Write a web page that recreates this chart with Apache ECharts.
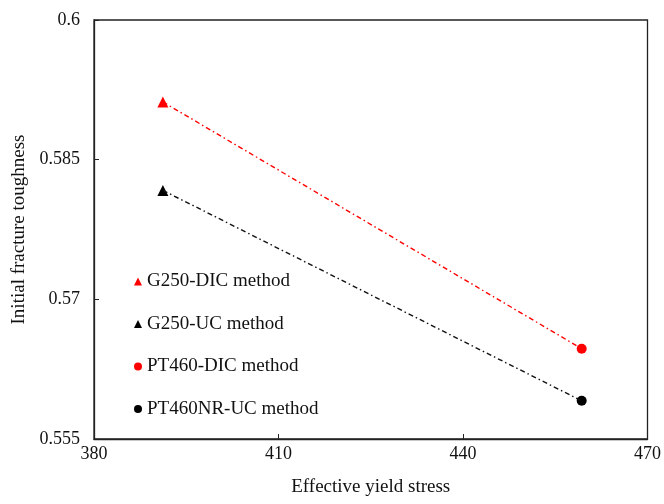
<!DOCTYPE html>
<html><head><meta charset="utf-8">
<script src="https://cdn.jsdelivr.net/npm/echarts@6/dist/echarts.min.js"></script>
<style>html,body{margin:0;padding:0;background:#fff}#c{width:664px;height:504px}</style>
</head><body><div id="c"></div>
<script>
const xTicks = [380, 410, 440, 470];
const yTicks = [0.555, 0.57, 0.585, 0.6];
const seriesNames = ['G250-DIC method', 'G250-UC method', 'PT460-DIC method', 'PT460NR-UC method'];
const g250DIC = [[391.2, 0.5912]];
const g250UC = [[391.2, 0.5817]];
const pt460DIC = [[459.3, 0.5647]];
const pt460NRUC = [[459.3, 0.5591]];
const redTrend = [g250DIC[0], pt460DIC[0]];
const blackTrend = [g250UC[0], pt460NRUC[0]];

const font = 'Liberation Serif, Times New Roman, serif';
const chart = echarts.init(document.getElementById('c'));
chart.setOption({
  animation: false,
  backgroundColor: '#fff',
  grid: {left: 94, right: 16, top: 20, bottom: 65, show: true, borderColor: '#222', borderWidth: 1.3},
  legend: {
    orient: 'vertical', left: 129, top: 267, itemWidth: 8, itemHeight: 8, itemGap: 23.5,
    data: seriesNames,
    textStyle: {fontFamily: font, fontSize: 19, color: '#111'}
  },
  xAxis: {
    type: 'value', min: xTicks[0], max: xTicks[xTicks.length - 1], interval: 30,
    name: 'Effective yield stress', nameLocation: 'middle', nameGap: 39,
    nameTextStyle: {fontFamily: font, fontSize: 19, color: '#111'},
    axisLine: {show: true, lineStyle: {color: '#222', width: 1.3}},
    axisTick: {show: true, inside: true, length: 5, lineStyle: {color: '#222'}},
    axisLabel: {fontFamily: font, fontSize: 18, color: '#111', margin: 6},
    splitLine: {show: false}
  },
  yAxis: {
    type: 'value', min: yTicks[0], max: yTicks[yTicks.length - 1], interval: 0.015,
    name: 'Initial fracture toughness', nameLocation: 'middle', nameGap: 65,
    nameTextStyle: {fontFamily: font, fontSize: 19, color: '#111'},
    axisLine: {show: true, lineStyle: {color: '#222', width: 1.3}},
    axisTick: {show: true, inside: true, length: 5, lineStyle: {color: '#222'}},
    axisLabel: {fontFamily: font, fontSize: 18, color: '#111', margin: 14,
      formatter: v => String(parseFloat(v.toFixed(3)))},
    splitLine: {show: false}
  },
  series: [
    {type: 'line', data: redTrend, symbol: 'none', silent: true,
     lineStyle: {color: '#ff0000', width: 1.4, type: [5, 3, 1.5, 3]}},
    {type: 'line', data: blackTrend, symbol: 'none', silent: true,
     lineStyle: {color: '#111', width: 1.4, type: [5, 3, 1.5, 3]}},
    {name: seriesNames[0], type: 'scatter', data: g250DIC, symbol: 'triangle', symbolSize: 11, itemStyle: {color: '#ff0000', opacity: 1}},
    {name: seriesNames[1], type: 'scatter', data: g250UC, symbol: 'triangle', symbolSize: 11, itemStyle: {color: '#000', opacity: 1}},
    {name: seriesNames[2], type: 'scatter', data: pt460DIC, symbol: 'circle', symbolSize: 10, itemStyle: {color: '#ff0000', opacity: 1}},
    {name: seriesNames[3], type: 'scatter', data: pt460NRUC, symbol: 'circle', symbolSize: 10, itemStyle: {color: '#000', opacity: 1}}
  ]
});
</script></body></html>
